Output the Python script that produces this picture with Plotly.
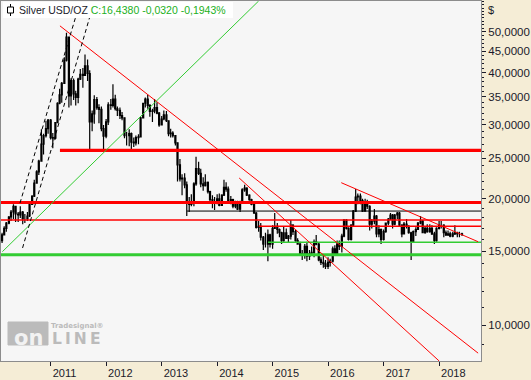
import pandas as pd
import plotly.graph_objects as go

# ---------------- data (semi-monthly OHLC) ----------------
bar_dates = list(pd.date_range("2010-02-15", "2018-06-01", freq="SMS"))

opens = [
 15.9, 16.4, 17.0, 17.5, 18.1, 18.6, 19.2, 18.4, 18.3, 18.6, 17.9, 17.9, 18.2, 19.4, 20.3, 21.8, 23.2, 24.6, 27.0, 28.3, 29.4,
 30.8, 28.0, 27.9, 30.4, 33.8, 35.4, 37.7, 42.8, 48.6, 35.2, 38.3, 35.6, 34.9, 38.6, 39.6, 39.4, 41.5, 39.8, 30.5, 31.9, 34.5, 33.0, 32.7, 29.4,
 28.2, 30.5, 33.5, 33.4, 34.6, 32.8, 32.5, 31.6, 31.2, 28.3, 28.3, 28.6, 27.3, 27.2, 28.0, 28.1, 31.2, 33.8, 34.6, 33.4, 32.3, 32.4, 33.0, 32.0,
 30.0, 31.0, 31.7, 30.7, 28.6, 28.7, 28.3, 27.2, 24.1, 22.3, 22.4, 21.6, 19.6, 19.4, 19.7, 21.7, 23.6, 23.0, 21.7, 21.5, 21.9, 20.8, 19.9, 19.6,
 19.5, 20.0, 19.3, 20.4, 21.3, 21.1, 19.8, 19.9, 19.2, 19.4, 18.9, 19.7, 21.0, 21.2, 20.4, 19.9, 19.4, 18.5, 17.1, 17.2, 16.2, 15.6, 15.6, 16.4,
 15.6, 17.0, 17.2, 16.9, 16.6, 15.9, 16.6, 16.1, 16.3, 17.3, 16.7, 15.9, 15.6, 14.8, 14.7, 15.4, 14.6, 14.8, 14.9, 15.8, 15.6, 14.3, 14.1, 14.0,
 13.8, 14.1, 14.2, 15.2, 14.7, 15.6, 15.4, 16.3, 17.8, 17.0, 16.0, 17.3, 18.7, 20.2, 20.3, 19.8, 18.7, 19.6, 19.2, 17.4, 17.7, 18.2, 16.5, 16.9,
 16.0, 16.7, 17.5, 17.9, 18.3, 17.4, 18.3, 18.5, 17.3, 16.5, 17.4, 17.2, 16.6, 15.8, 16.7, 16.9, 17.5, 17.7, 16.6, 17.0, 16.7, 17.0, 16.5, 15.9,
 17.0, 17.3, 17.3, 16.6, 16.4, 16.5, 16.3, 16.5, 16.6, 16.5, 16.5,
]
highs = [
 16.6, 17.2, 17.6, 18.2, 18.8, 19.4, 19.2, 18.6, 19.2, 18.7, 18.4, 18.6, 19.5, 20.4, 22.2, 23.4, 24.8, 29.3, 28.6, 30.7, 31.0,
 31.0, 28.7, 30.5, 34.0, 36.6, 38.0, 43.5, 49.8, 48.7, 38.8, 38.7, 36.2, 38.9, 40.8, 41.0, 44.2, 43.0, 40.5, 32.5, 35.3, 35.0, 33.6, 33.2, 30.0,
 31.0, 34.0, 34.6, 37.5, 35.4, 33.2, 33.0, 32.2, 31.3, 28.9, 29.3, 28.8, 28.0, 28.3, 28.5, 31.4, 33.9, 34.9, 35.4, 33.6, 32.8, 34.6, 34.0, 32.2,
 31.5, 32.5, 32.4, 30.8, 29.4, 29.0, 28.4, 27.3, 24.9, 22.9, 23.0, 22.0, 20.2, 20.5, 21.9, 25.2, 24.5, 23.6, 22.5, 22.9, 22.0, 20.9, 20.4, 20.2,
 20.5, 20.6, 20.5, 22.2, 21.9, 21.4, 20.3, 20.0, 19.8, 19.8, 19.8, 21.2, 21.6, 21.3, 20.5, 20.0, 19.5, 18.6, 17.7, 17.5, 16.3, 16.6, 16.9, 16.5,
 17.3, 18.5, 17.5, 17.0, 16.7, 17.2, 17.0, 16.4, 17.8, 17.4, 16.9, 16.1, 15.8, 15.1, 15.6, 15.8, 15.1, 15.4, 16.0, 16.4, 15.7, 14.5, 14.6, 14.3,
 14.5, 14.4, 15.4, 15.5, 15.9, 15.9, 16.5, 17.9, 17.9, 17.1, 17.4, 18.8, 21.1, 20.6, 20.6, 20.0, 20.0, 19.9, 19.3, 17.9, 18.9, 18.3, 17.3, 17.0,
 16.9, 17.4, 18.0, 18.5, 18.4, 18.4, 18.6, 18.6, 17.4, 17.6, 17.9, 17.3, 16.7, 16.8, 17.1, 17.6, 18.2, 17.8, 17.2, 17.4, 17.4, 17.3, 16.7, 17.1,
 17.7, 17.7, 17.4, 16.8, 16.8, 16.7, 16.7, 17.3, 16.7, 16.7, 16.6,
]
lows = [
 15.7, 16.4, 16.7, 17.4, 17.7, 17.9, 17.6, 17.6, 18.0, 17.4, 17.5, 17.7, 18.1, 19.4, 20.2, 21.8, 22.8, 24.5, 25.5, 28.0, 28.6,
 27.7, 26.4, 27.7, 30.3, 33.6, 33.9, 37.6, 42.5, 33.0, 33.4, 34.4, 33.4, 33.8, 38.4, 36.8, 39.3, 38.2, 26.1, 29.0, 30.2, 32.6, 30.3, 29.0, 26.2,
 27.9, 30.0, 32.6, 33.0, 32.5, 31.5, 31.0, 30.8, 27.9, 26.8, 26.7, 26.1, 26.6, 26.8, 27.0, 28.0, 31.1, 33.0, 32.8, 31.4, 30.5, 32.0, 31.8, 29.7,
 29.9, 30.8, 30.5, 28.2, 28.0, 28.0, 26.8, 22.0, 22.0, 20.4, 21.2, 18.2, 18.6, 19.2, 19.2, 21.5, 22.8, 21.3, 20.9, 21.4, 20.6, 19.5, 19.0, 18.8,
 19.4, 19.2, 19.3, 20.3, 20.8, 19.6, 19.4, 19.0, 19.0, 18.8, 18.6, 19.6, 20.8, 20.3, 19.8, 19.3, 18.4, 17.0, 16.7, 15.9, 15.1, 15.3, 14.2, 15.3,
 15.2, 17.0, 16.5, 16.2, 15.6, 15.8, 16.4, 15.7, 16.0, 16.4, 15.8, 15.6, 14.6, 14.3, 14.4, 14.2, 14.3, 14.6, 14.5, 15.5, 14.2, 13.9, 13.7, 13.6,
 13.6, 13.8, 14.1, 14.6, 14.7, 15.1, 14.9, 16.2, 16.9, 15.9, 15.9, 17.2, 18.6, 19.4, 19.4, 18.6, 18.7, 18.9, 16.8, 17.0, 17.4, 16.2, 16.2, 15.6,
 15.9, 16.6, 17.3, 17.8, 17.0, 17.3, 17.9, 17.2, 16.2, 16.5, 17.0, 16.5, 14.3, 15.7, 16.3, 16.9, 17.4, 16.6, 16.5, 16.6, 16.6, 16.4, 15.6, 15.8,
 16.9, 17.0, 16.2, 16.3, 16.3, 16.2, 16.2, 16.4, 16.2, 16.2, 16.3,
]
closes = [
 16.4, 17.0, 17.5, 18.1, 18.6, 19.2, 18.4, 18.3, 18.6, 17.9, 17.9, 18.2, 19.4, 20.3, 21.8, 23.2, 24.6, 27.0, 28.3, 29.4, 30.8,
 28.0, 27.9, 30.4, 33.8, 35.4, 37.7, 42.8, 48.6, 35.2, 38.3, 35.6, 34.9, 38.6, 39.6, 39.4, 41.5, 39.8, 30.5, 31.9, 34.5, 33.0, 32.7, 29.4, 28.2,
 30.5, 33.5, 33.4, 34.6, 32.8, 32.5, 31.6, 31.2, 28.3, 28.3, 28.6, 27.3, 27.2, 28.0, 28.1, 31.2, 33.8, 34.6, 33.4, 32.3, 32.4, 33.0, 32.0, 30.0,
 31.0, 31.7, 30.7, 28.6, 28.7, 28.3, 27.2, 24.1, 22.3, 22.4, 21.6, 19.6, 19.4, 19.7, 21.7, 23.6, 23.0, 21.7, 21.5, 21.9, 20.8, 19.9, 19.6, 19.5,
 20.0, 19.3, 20.4, 21.3, 21.1, 19.8, 19.9, 19.2, 19.4, 18.9, 19.7, 21.0, 21.2, 20.4, 19.9, 19.4, 18.5, 17.1, 17.2, 16.2, 15.6, 15.6, 16.4, 15.6,
 17.0, 17.2, 16.9, 16.6, 15.9, 16.6, 16.1, 16.3, 17.3, 16.7, 15.9, 15.6, 14.8, 14.7, 15.4, 14.6, 14.8, 14.9, 15.8, 15.6, 14.3, 14.1, 14.0, 13.8,
 14.1, 14.2, 15.2, 14.7, 15.6, 15.4, 16.3, 17.8, 17.0, 16.0, 17.3, 18.7, 20.2, 20.3, 19.8, 18.7, 19.6, 19.2, 17.4, 17.7, 18.2, 16.5, 16.9, 16.0,
 16.7, 17.5, 17.9, 18.3, 17.4, 18.3, 18.5, 17.3, 16.5, 17.4, 17.2, 16.6, 15.8, 16.7, 16.9, 17.5, 17.7, 16.6, 17.0, 16.7, 17.0, 16.5, 15.9, 17.0,
 17.3, 17.3, 16.6, 16.4, 16.5, 16.3, 16.5, 16.6, 16.5, 16.5, 16.438,
]

# horizontal support / resistance levels
h_levels = [26.1, 19.6, 18.7, 17.8, 17.2, 15.75, 14.71]
h_starts = ["2011-03-03", "2010-02-08", "2013-06-16", "2010-02-08", "2014-10-02", "2014-12-02", "2010-02-08"]
h_end = "2018-10-04"

# trend lines: (start date, start price, end date, end price)
trend_red = [
    ("2011-03-03", 51.7, "2018-09-15", 8.57),
    ("2014-05-26", 22.42, "2018-01-01", 8.21),
    ("2016-03-28", 21.85, "2018-09-15", 15.80),
]
trend_green = [("2010-02-17", 14.96, "2014-10-01", 59.26)]
trend_dashed = [
    ("2010-06-13", 19.54, "2011-07-12", 58.6),
    ("2010-06-30", 15.27, "2011-10-12", 58.6),
]

y_ticks = [10, 15, 20, 25, 30, 35, 40, 45, 50]
y_minor = [v for v in range(9, 60) if v not in y_ticks]
x_ticks = ["2011-01-01", "2012-01-01", "2013-01-01", "2014-01-01", "2015-01-01",
           "2016-01-01", "2017-01-01", "2018-01-01"]
x_labels = ["2011", "2012", "2013", "2014", "2015", "2016", "2017", "2018"]

# ---------------- figure ----------------
W, H = 531, 380
ML, MR, MT, MB = 1, 50, 1, 19
PW, PH = W - ML - MR, H - MT - MB

def px(x):  # pixel x -> paper
    return (x - ML) / PW

def py(y):  # pixel y -> paper
    return (H - MB - y) / PH

RED = "#FF0000"
GREEN = "#33CC33"
FONT = "Liberation Sans"
TXT = "#1A1A2A"
WM = "#BBBBBB"

fig = go.Figure()

fig.add_trace(go.Candlestick(
    x=bar_dates, open=opens, high=highs, low=lows, close=closes,
    increasing=dict(line=dict(color="black", width=1.2), fillcolor="white"),
    decreasing=dict(line=dict(color="black", width=1.2), fillcolor="black"),
    whiskerwidth=0, showlegend=False, hoverinfo="skip",
))

h_styles = [(RED, 3.2), (RED, 3.2), ("black", 1), (RED, 1.4), (RED, 1.4), (GREEN, 1.6), (GREEN, 3.2)]
for lvl, st, (col, w) in zip(h_levels, h_starts, h_styles):
    fig.add_trace(go.Scatter(x=[st, h_end], y=[lvl, lvl], mode="lines",
                             line=dict(color=col, width=w), showlegend=False, hoverinfo="skip"))

for d0, p0, d1, p1 in trend_red:
    fig.add_trace(go.Scatter(x=[d0, d1], y=[p0, p1], mode="lines",
                             line=dict(color=RED, width=1), showlegend=False, hoverinfo="skip"))
for d0, p0, d1, p1 in trend_green:
    fig.add_trace(go.Scatter(x=[d0, d1], y=[p0, p1], mode="lines",
                             line=dict(color=GREEN, width=1), showlegend=False, hoverinfo="skip"))
for d0, p0, d1, p1 in trend_dashed:
    fig.add_trace(go.Scatter(x=[d0, d1], y=[p0, p1], mode="lines",
                             line=dict(color="black", width=1, dash="4px,3px"),
                             showlegend=False, hoverinfo="skip"))

shapes = []
# legend box
shapes.append(dict(type="rect", xref="paper", yref="paper", x0=px(3), x1=px(233), y0=py(18), y1=py(2),
                   fillcolor="white", line=dict(width=0), layer="above"))
# candle icon in legend
shapes.append(dict(type="line", xref="paper", yref="paper", x0=px(10.5), x1=px(10.5), y0=py(16), y1=py(4),
                   line=dict(color="black", width=1), layer="above"))
shapes.append(dict(type="rect", xref="paper", yref="paper", x0=px(7.5), x1=px(13.5), y0=py(13), y1=py(7),
                   fillcolor="white", line=dict(color="black", width=1), layer="above"))
# watermark box
shapes.append(dict(type="rect", xref="paper", yref="paper", x0=px(8), x1=px(48), y0=py(345), y1=py(322),
                   fillcolor=WM, line=dict(color=WM, width=1), layer="below"))

annotations = [
    dict(xref="paper", yref="paper", x=px(17), y=py(10), xanchor="left", yanchor="middle", showarrow=False,
         text="Silver USD/OZ <span style='color:#22B022'>C:16,4380 -0,0320 -0,1943%</span>",
         font=dict(family=FONT, size=10.5, color=TXT)),
    dict(xref="paper", yref="paper", x=px(486), y=py(10), xanchor="left", yanchor="middle", showarrow=False,
         text="$", font=dict(family=FONT, size=11, color=TXT)),
    dict(xref="paper", yref="paper", x=px(28), y=py(338), xanchor="center", yanchor="middle", showarrow=False,
         text="<b>on</b>", font=dict(family="DejaVu Sans", size=21, color="#F2F2F2")),
    dict(xref="paper", yref="paper", x=px(51), y=py(348.5), xanchor="left", yanchor="bottom", showarrow=False,
         borderpad=0, text="<b>L&#8201;I&#8201;N&#8201;E</b>",
         font=dict(family="DejaVu Sans", size=15.5, color=WM)),
    dict(xref="paper", yref="paper", x=px(50), y=py(331), xanchor="left", yanchor="bottom", showarrow=False,
         borderpad=0, text="<b>Tradesignal®</b>", font=dict(family="DejaVu Sans", size=7, color=WM)),
]

fig.update_layout(
    width=W, height=H, margin=dict(l=ML, r=MR, t=MT, b=MB, autoexpand=False),
    paper_bgcolor="#F5EDD6", plot_bgcolor="#F6F6F6",
    separators=",.", showlegend=False,
    shapes=shapes, annotations=annotations,
    font=dict(family=FONT, size=11, color=TXT),
)
fig.update_xaxes(
    type="date", range=["2010-02-08", "2018-10-04"], automargin=False,
    rangeslider=dict(visible=False),
    tickvals=x_ticks, ticktext=x_labels, ticks="outside", ticklen=4, tickcolor=TXT,
    ticklabelposition="outside right", ticklabelstandoff=2, ticklabelshift=1,
    showgrid=False, zeroline=False,
    showline=True, linecolor="#8C8C8C", linewidth=1, mirror=True,
    tickfont=dict(family=FONT, size=11, color=TXT),
)
fig.update_yaxes(
    type="log", side="right", range=[0.9142, 1.7728], automargin=False,
    tickvals=y_ticks, tickformat=".4f", ticks="outside", ticklen=4, tickcolor=TXT,
    minor=dict(tickvals=y_minor, ticks="outside", ticklen=2, tickcolor=TXT, showgrid=False),
    showgrid=False, zeroline=False,
    showline=True, linecolor="#8C8C8C", linewidth=1, mirror=True,
    tickfont=dict(family=FONT, size=11.5, color=TXT),
)

fig.write_html("out.html", config={"displayModeBar": False},
               post_script="document.body.style.margin='0';document.body.style.padding='0';")
